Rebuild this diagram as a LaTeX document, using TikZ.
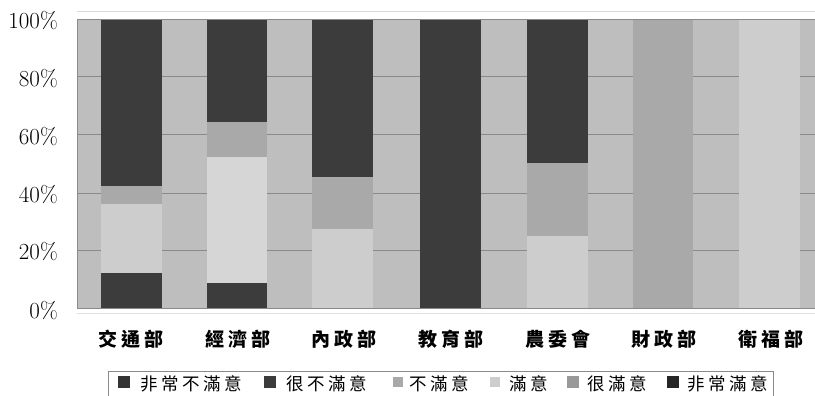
\documentclass[tikz,border=0pt]{standalone}
\usepackage{fontspec}
\newfontfamily\cjk[LetterSpace=21]{Noto Sans CJK TC}
\definecolor{plotbg}{HTML}{BEBEBE}
\definecolor{gridc}{HTML}{8A8A8A}
\definecolor{darkbar}{HTML}{3C3C3C}
\definecolor{medbar}{HTML}{A9A9A9}
\definecolor{lightbar}{HTML}{CDCDCD}
\definecolor{palebar}{HTML}{D6D6D6}

\begin{document}
\begin{tikzpicture}[x=1pt,y=-1pt]
\tikzstyle{every node}+=[inner sep=0pt]
\tikzstyle{pct}=[anchor=east,font=\fontsize{23}{23}\selectfont]
\tikzstyle{dept}=[font=\cjk\bfseries\fontsize{19}{19}\selectfont]
\tikzstyle{key}=[anchor=west,font=\cjk\fontsize{17.5}{18}\selectfont]
\tikzstyle{grid}=[gridc,line width=1pt]
\useasboundingbox (0,0) rectangle (815,396);
\fill [white] (0,0) rectangle (815,396);
% plot area and grid
\draw [black!15] (77,11) -- (815,11);
\fill [plotbg] (77,19) rectangle (815,308);
\draw [grid] (77,77) -- (815,77);
\draw [grid] (77,135) -- (815,135);
\draw [grid] (77,193) -- (815,193);
\draw [grid] (77,250) -- (815,250);
% 交通部
\fill [darkbar] (101,308) rectangle (162,273);
\fill [lightbar] (101,273) rectangle (162,204);
\fill [medbar] (101,204) rectangle (162,186);
\fill [darkbar] (101,186) rectangle (162,19);
% 經濟部
\fill [darkbar] (207,308) rectangle (267,283);
\fill [palebar] (207,283) rectangle (267,157);
\fill [medbar] (207,157) rectangle (267,122);
\fill [darkbar] (207,122) rectangle (267,19);
% 內政部
\fill [lightbar] (312,308) rectangle (373,229);
\fill [medbar] (312,229) rectangle (373,177);
\fill [darkbar] (312,177) rectangle (373,19);
% 教育部
\fill [darkbar] (420,308) rectangle (481,163);
\fill [darkbar] (420,163) rectangle (481,19);
% 農委會
\fill [lightbar] (527,308) rectangle (588,236);
\fill [medbar] (527,236) rectangle (588,163);
\fill [darkbar] (527,163) rectangle (588,19);
% 財政部
\fill [medbar] (633,308) rectangle (693,19);
% 衛福部
\fill [lightbar] (739,308) rectangle (800,19);
% frame
\draw [gridc] (77,19) -- (815,19);
\draw [gridc] (77,19) -- (77,308);
\draw [gridc,line width=1pt] (77,308) -- (815,308);
\draw [black!12] (77,313) -- (815,313);
% axis labels
\node [pct] (p100) at (58,21) {100\%};
\node [pct] (p80) at (58,79) {80\%};
\node [pct] (p60) at (58,137) {60\%};
\node [pct] (p40) at (58,195) {40\%};
\node [pct] (p20) at (58,252) {20\%};
\node [pct] (p0) at (58,311) {0\%};
% departments
\node [dept] (jt) at (131,339) {交通部};
\node [dept] (jj) at (238,339) {經濟部};
\node [dept] (nz) at (344,339) {內政部};
\node [dept] (jy) at (451,339) {教育部};
\node [dept] (nw) at (558,339) {農委會};
\node [dept] (cz) at (664,339) {財政部};
\node [dept] (wf) at (771,339) {衛福部};
% legend
\draw [gridc] (108,400) -- (108,371) -- (773,371) -- (773,400);
\fill [black!80] (118,376) rectangle (130,388);
\node [key] (k1) at (140,384) {非常不滿意};
\fill [darkbar] (264,376) rectangle (276,388);
\node [key] (k2) at (286,384) {很不滿意};
\fill [medbar] (393,377) rectangle (403,387);
\node [key] (k3) at (409,384) {不滿意};
\fill [lightbar] (490,377) rectangle (500,387);
\node [key] (k4) at (509,384) {滿意};
\fill [black!40] (567,376) rectangle (579,388);
\node [key] (k5) at (587,384) {很滿意};
\fill [black!85] (667,376) rectangle (679,388);
\node [key] (k6) at (687,384) {非常滿意};
\end{tikzpicture}
\end{document}
